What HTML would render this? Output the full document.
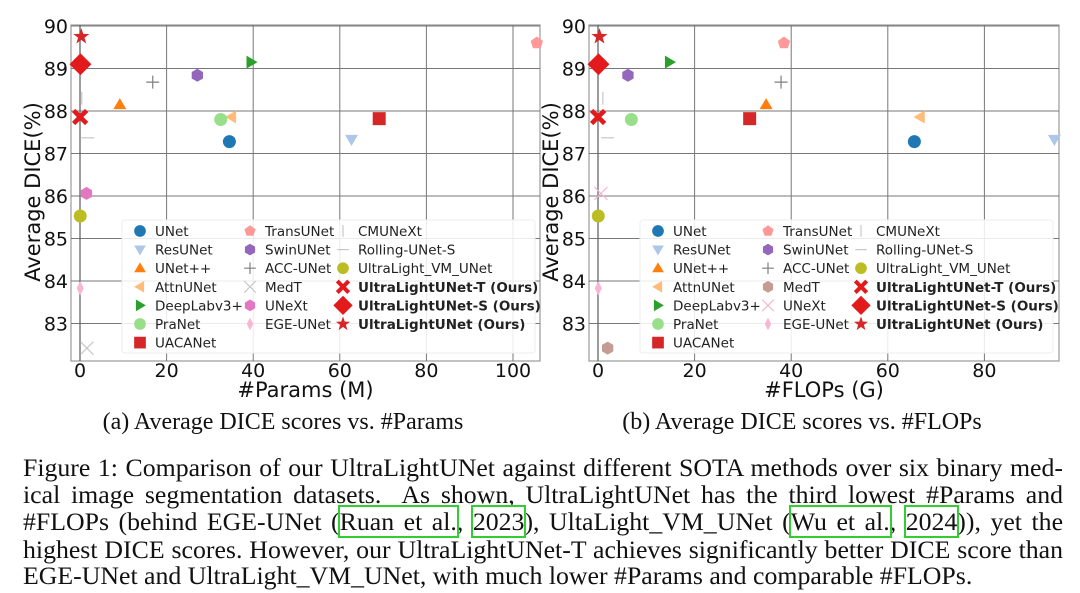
<!DOCTYPE html>
<html><head><meta charset="utf-8"><style>
body{margin:0;background:#fff;width:1080px;height:593px;overflow:hidden;position:relative}
svg{position:absolute;left:0;top:0}
.cap{position:absolute;left:23px;width:1040px;font-family:"Liberation Serif",serif;font-size:25.8px;line-height:27px;color:#111;white-space:nowrap}
.j{text-align:justify;text-align-last:justify}
.box{outline:2px solid #3c3;outline-offset:0px}
</style></head><body>
<svg id="fig" width="1080" height="593"></svg>
<div class="cap j" style="top:454px">Figure 1: Comparison of our UltraLightUNet against different SOTA methods over six binary med-</div>
<div class="cap j" style="top:481px">ical image segmentation datasets.&nbsp; As shown, UltraLightUNet has the third lowest #Params and</div>
<div class="cap j" style="top:508px">#FLOPs (behind EGE-UNet (<span class="box">Ruan et al.</span>, <span class="box">2023</span>), UltaLight_VM_UNet (<span class="box">Wu et al.</span>, <span class="box">2024</span>)), yet the</div>
<div class="cap j" style="top:536px">highest DICE scores. However, our UltraLightUNet-T achieves significantly better DICE score than</div>
<div class="cap" style="top:562px">EGE-UNet and UltraLight_VM_UNet, with much lower #Params and comparable #FLOPs.</div>
<script>
const models = ["UNet","ResUNet","UNet++","AttnUNet","DeepLabv3+","PraNet","UACANet","TransUNet","SwinUNet","ACC-UNet","MedT","UNeXt","EGE-UNet","CMUNeXt","Rolling-UNet-S","UltraLight_VM_UNet","UltraLightUNet-T (Ours)","UltraLightUNet-S (Ours)","UltraLightUNet (Ours)"];
const paramsM = [34.5,62.7,9.2,35,39.5,32.5,69.1,105.5,27.1,16.8,1.6,1.5,0.05,0.4,1.8,0.05,0.03,0.1,0.3];
const flopsG  = [65.5,94.5,34.8,66.7,14.8,6.9,31.4,38.5,6.2,37.9,2.0,0.6,0.07,1.0,2.0,0.06,0.02,0.1,0.3];
const dice    = [87.28,87.33,88.15,87.86,89.15,87.8,87.82,89.6,88.84,88.68,82.42,86.06,83.83,88.3,87.37,85.53,87.86,89.1,89.75];
const paramTicks = [0,20,40,60,80,100];
const flopTicks = [0,20,40,60,80];
const diceTicks = [83,84,85,86,87,88,89,90];

const NS="http://www.w3.org/2000/svg";
const svg=document.getElementById('fig');
function el(tag,attrs,parent,text){const e=document.createElementNS(NS,tag);for(const k in attrs)e.setAttribute(k,attrs[k]);if(text!==undefined)e.textContent=text;(parent||svg).appendChild(e);return e;}
const styleL=[["circle","#1f77b4"],["tri-down","#aec7e8"],["tri-up","#ff7f0e"],["tri-left","#ffbb78"],["tri-right","#2ca02c"],["circle","#98df8a"],["square","#d62728"],["pent","#ff9896"],["hex","#9467bd"],["plus","#7f7f7f"],["x","#c7c7c7"],["hex","#e377c2"],["thin","#f7b6d2"],["vline","#c7c7c7"],["hline","#c7c7c7"],["circle","#bcbd22"],["bigx","#e31a1c"],["diamond","#e31a1c"],["star","#d62728"]];
const styleR=styleL.map(s=>s.slice());
styleR[10]=["hex","#c49c94"];styleR[11]=["x","#f7b6d2"];
function marker(g,type,color,x,y,s){
  s=s||1;let r=6.5*s;
  switch(type){
  case"circle":return el('circle',{cx:x,cy:y,r:r,fill:color},g);
  case"hex":{let p=[];for(let i=0;i<6;i++){let a=Math.PI/3*i+Math.PI/6;p.push((x+r*Math.cos(a)).toFixed(1)+','+(y+r*Math.sin(a)).toFixed(1));}return el('polygon',{points:p.join(' '),fill:color},g);}
  case"pent":{let p=[];for(let i=0;i<5;i++){let a=-Math.PI/2+2*Math.PI/5*i;p.push((x+r*Math.cos(a)).toFixed(1)+','+(y+r*Math.sin(a)).toFixed(1));}return el('polygon',{points:p.join(' '),fill:color},g);}
  case"tri-up":return el('polygon',{points:`${x},${y-r} ${x-r},${y+r*0.7} ${x+r},${y+r*0.7}`,fill:color},g);
  case"tri-down":return el('polygon',{points:`${x},${y+r} ${x-r},${y-r*0.7} ${x+r},${y-r*0.7}`,fill:color},g);
  case"tri-left":return el('polygon',{points:`${x-r},${y} ${x+r*0.7},${y-r} ${x+r*0.7},${y+r}`,fill:color},g);
  case"tri-right":return el('polygon',{points:`${x+r},${y} ${x-r*0.7},${y-r} ${x-r*0.7},${y+r}`,fill:color},g);
  case"square":return el('rect',{x:x-r,y:y-r,width:2*r,height:2*r,fill:color},g);
  case"plus":return el('path',{d:`M${x-r},${y}H${x+r}M${x},${y-r}V${y+r}`,stroke:color,'stroke-width':1.2,fill:'none'},g);
  case"x":return el('path',{d:`M${x-r},${y-r}L${x+r},${y+r}M${x-r},${y+r}L${x+r},${y-r}`,stroke:color,'stroke-width':1.2,fill:'none'},g);
  case"thin":return el('polygon',{points:`${x},${y-r*1.1} ${x+r*0.55},${y} ${x},${y+r*1.1} ${x-r*0.55},${y}`,fill:color},g);
  case"vline":return el('path',{d:`M${x},${y-r}V${y+r}`,stroke:color,'stroke-width':1.2},g);
  case"hline":return el('path',{d:`M${x-r},${y}H${x+r}`,stroke:color,'stroke-width':1.2},g);
  case"bigx":{let a=r*1.0,b=r*0.4;return el('path',{d:`M${x-a},${y-a+b}L${x-a+b},${y-a}L${x},${y-b}L${x+a-b},${y-a}L${x+a},${y-a+b}L${x+b},${y}L${x+a},${y+a-b}L${x+a-b},${y+a}L${x},${y+b}L${x-a+b},${y+a}L${x-a},${y+a-b}L${x-b},${y}Z`,fill:color},g);}
  case"diamond":{let a=r*1.35;return el('polygon',{points:`${x},${y-a} ${x+a},${y} ${x},${y+a} ${x-a},${y}`,fill:color},g);}
  case"star":{let p=[];for(let i=0;i<10;i++){let rr=i%2?r*0.42:r*1.05;let a=-Math.PI/2+Math.PI/5*i;p.push((x+rr*Math.cos(a)).toFixed(1)+','+(y+rr*Math.sin(a)).toFixed(1));}return el('polygon',{points:p.join(' '),fill:color},g);}
  }
}
function chart(cfg){
  const g=el('g',{},svg);
  
  
  const X=v=>cfg.x0+(v-0)*cfg.kx, Y=v=>26+(90-v)*42.5;
  el('rect',{x:cfg.left,y:25,width:cfg.right-cfg.left,height:336,fill:'#fff',stroke:'#999','stroke-width':1.2},g);
  cfg.xt.forEach(t=>{
    el('line',{x1:X(t),x2:X(t),y1:25,y2:361,stroke:'#777','stroke-width':1},g);
    const tl=el('text',{x:X(t),y:377,'text-anchor':'middle','font-size':19,'font-family':'DejaVu Sans, sans-serif',fill:'#111'},g,String(t));
    
    
  });
  diceTicks.forEach(t=>{
    el('line',{x1:cfg.left,x2:cfg.right,y1:Y(t),y2:Y(t),stroke:'#777','stroke-width':1},g);
    const tl=el('text',{x:cfg.left-3,y:Y(t)+7,'text-anchor':'end','font-size':19,'font-family':'DejaVu Sans, sans-serif',fill:'#111'},g,String(t));
    
    
  });
  el('line',{x1:X(0),x2:X(0),y1:25,y2:361,stroke:'#666','stroke-width':1.3},g);
  const xl=el('text',{x:(cfg.left+cfg.right)/2,y:397,'text-anchor':'middle','font-size':21,'font-family':'DejaVu Sans, sans-serif',fill:'#111'},g,cfg.xlabel);
  
  
  const yl=el('text',{x:0,y:0,'text-anchor':'middle','font-size':21,'font-family':'DejaVu Sans, sans-serif',fill:'#111',transform:`translate(${cfg.left-31},192) rotate(-90)`},g,'Average DICE(%)');
  
  
  const lg=el('g',{},g);
  
  
  el('rect',{x:cfg.lx,y:220,width:413,height:133,rx:3,fill:'#fff','fill-opacity':0.85,stroke:'#eee'},lg);
  const cols=[[0,1,2,3,4,5,6],[7,8,9,10,11,12],[13,14,15,16,17,18]];
  const cx=[18,128,221];
  cols.forEach((c,ci)=>c.forEach((idx,ri)=>{
    const yy=231+ri*18.6, xx=cfg.lx+cx[ci];
    const st=cfg.styles[idx];
    const m=marker(lg,st[0],st[1],xx,yy,idx>=16?1.1:0.9);
    
    
    const t=el('text',{x:xx+15,y:yy+5,'font-size':13.5,'font-family':'DejaVu Sans, sans-serif',fill:'#222','font-weight':idx>=16?'bold':'normal'},lg,models[idx]);
    
    
  }));
  models.forEach((n,i)=>{
    const st=cfg.styles[i];
    const m=marker(g,st[0],st[1],X(cfg.xs[i]),Y(dice[i]),i>=16?1.25:1);
    g.insertBefore(m,lg);
    
    
  });
  const cap=el('text',{x:cfg.capx,y:429,'text-anchor':'middle','font-size':24,'font-family':'Liberation Serif, serif',fill:'#111'},g,cfg.caption);
  
  
}
chart({name:'params-chart',left:71,right:540,x0:80,kx:4.33,xt:paramTicks,xs:paramsM,styles:styleL,xlabel:'#Params (M)',lx:122,capx:283,caption:'(a) Average DICE scores vs. #Params'});
chart({name:'flops-chart',left:589,right:1059,x0:598,kx:4.83,xt:flopTicks,xs:flopsG,styles:styleR,xlabel:'#FLOPs (G)',lx:640,capx:802,caption:'(b) Average DICE scores vs. #FLOPs'});
</script>
</body></html>
